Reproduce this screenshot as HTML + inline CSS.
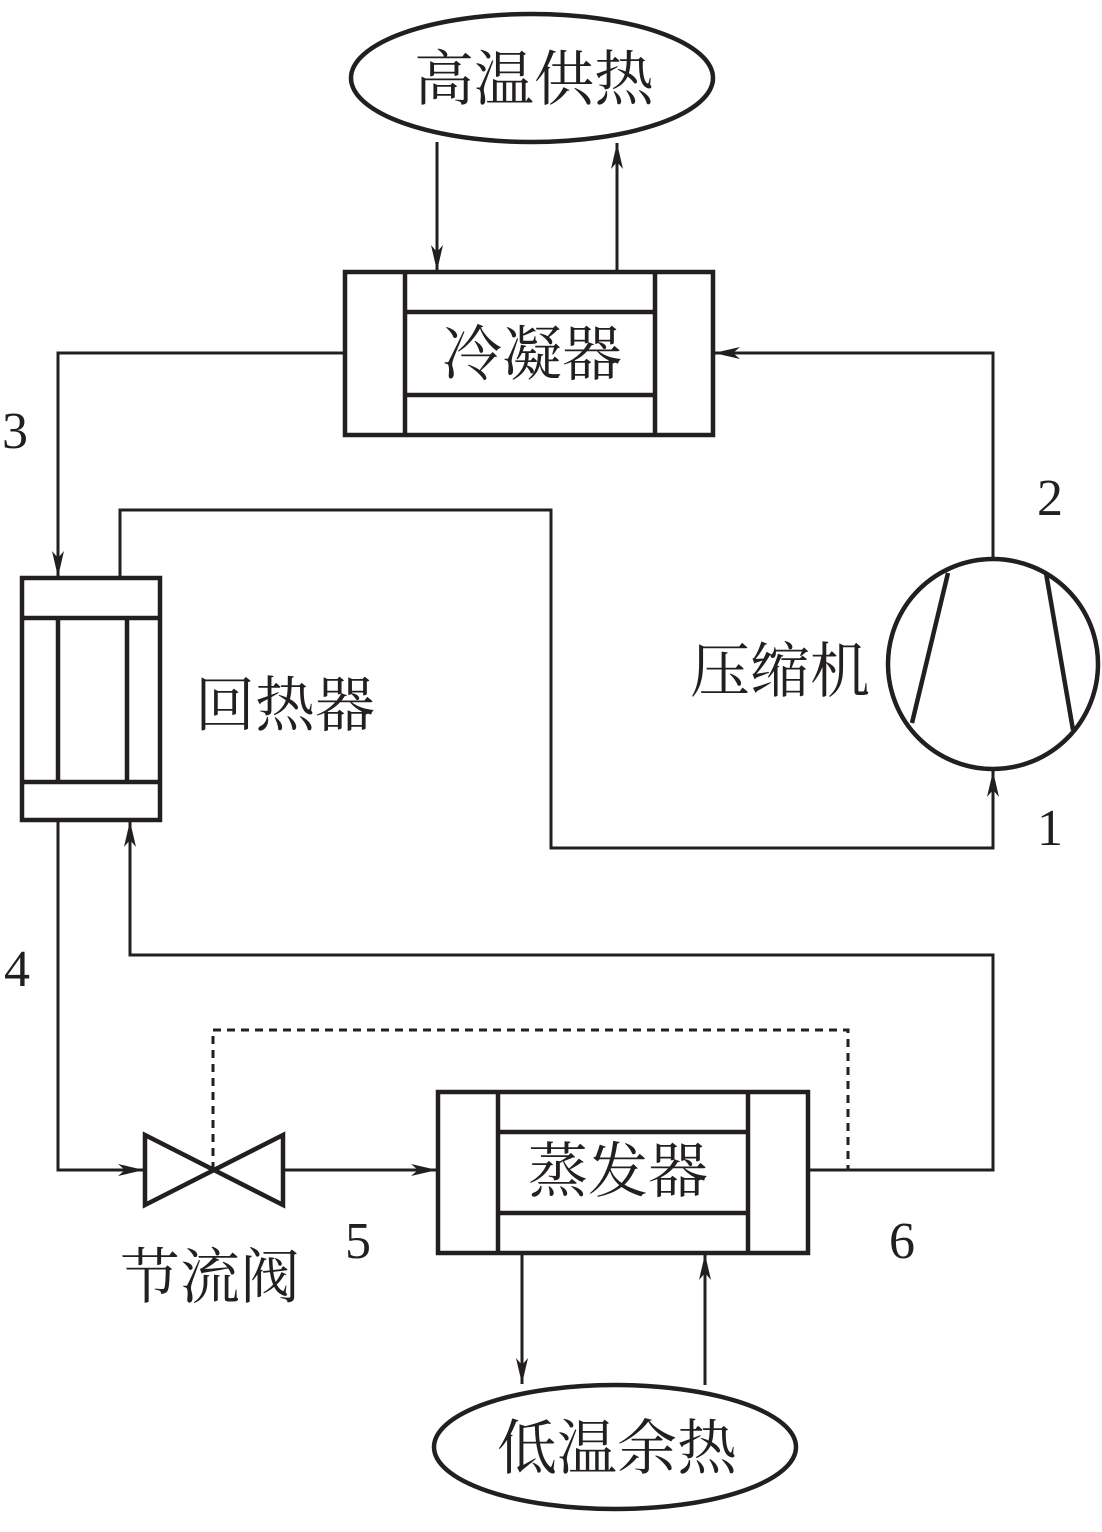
<!DOCTYPE html>
<html><head><meta charset="utf-8"><style>
body{margin:0;background:#fff;width:1102px;height:1527px;overflow:hidden}
text{font-family:"Liberation Serif","Noto Serif CJK SC",serif;fill:#231f20}
</style></head><body>
<svg width="1102" height="1527" viewBox="0 0 1102 1527" xmlns="http://www.w3.org/2000/svg">
<defs><marker id="a" markerWidth="26" markerHeight="12" refX="26" refY="6" orient="auto" markerUnits="userSpaceOnUse" viewBox="0 0 26 12"><path d="M0,0 L26,6 L0,12 L7,6Z" fill="#231f20"/></marker></defs>
<g fill="none" stroke="#231f20" stroke-width="4.5">
<ellipse cx="532" cy="78" rx="181" ry="64"/>
<ellipse cx="615" cy="1447" rx="181" ry="62"/>
<rect x="345" y="272" width="368" height="163"/>
<line x1="405" y1="272" x2="405" y2="435"/><line x1="655" y1="272" x2="655" y2="435"/>
<line x1="405" y1="312" x2="655" y2="312"/><line x1="405" y1="395" x2="655" y2="395"/>
<rect x="22" y="578" width="138" height="242"/>
<line x1="22" y1="618" x2="160" y2="618"/><line x1="22" y1="782" x2="160" y2="782"/>
<line x1="58" y1="618" x2="58" y2="782"/><line x1="127" y1="618" x2="127" y2="782"/>
<rect x="438" y="1092" width="370" height="161"/>
<line x1="498" y1="1092" x2="498" y2="1253"/><line x1="748" y1="1092" x2="748" y2="1253"/>
<line x1="498" y1="1132" x2="748" y2="1132"/><line x1="498" y1="1213" x2="748" y2="1213"/>
<circle cx="993" cy="664" r="105"/>
<line x1="948" y1="573" x2="912" y2="723"/><line x1="1046" y1="573" x2="1073" y2="730"/>
<path d="M145,1135 L145,1205 L283,1135 L283,1205 Z"/>
</g>
<g fill="none" stroke="#231f20" stroke-width="3">
<line x1="437" y1="142" x2="437" y2="271" marker-end="url(#a)"/>
<line x1="617" y1="272" x2="617" y2="143" marker-end="url(#a)"/>
<polyline points="345,353 58,353 58,577" marker-end="url(#a)"/>
<polyline points="993,558 993,353 714,353" marker-end="url(#a)"/>
<polyline points="120,578 120,510 551,510 551,848 993,848 993,771" marker-end="url(#a)"/>
<polyline points="58,820 58,1170 144,1170" marker-end="url(#a)"/>
<line x1="283" y1="1170" x2="437" y2="1170" marker-end="url(#a)"/>
<polyline points="808,1170 993,1170 993,955 130,955 130,821" marker-end="url(#a)"/>
<line x1="522" y1="1253" x2="522" y2="1384" marker-end="url(#a)"/>
<line x1="705" y1="1385" x2="705" y2="1254" marker-end="url(#a)"/>
<polyline points="213,1170 213,1030 848,1030 848,1170" stroke-dasharray="8,6"/>
</g>
<g font-size="60" text-anchor="middle">
<text x="534" y="100">高温供热</text>
<text x="532" y="375">冷凝器</text>
<text x="285" y="726">回热器</text>
<text x="780" y="692">压缩机</text>
<text x="618" y="1192">蒸发器</text>
<text x="210" y="1298">节流阀</text>
<text x="617" y="1469">低温余热</text>
</g>
<g font-size="52" text-anchor="middle">
<text x="15" y="448">3</text>
<text x="1050" y="515">2</text>
<text x="1050" y="845">1</text>
<text x="17" y="986">4</text>
<text x="358" y="1258">5</text>
<text x="902" y="1258">6</text>
</g>
</svg>
</body></html>
